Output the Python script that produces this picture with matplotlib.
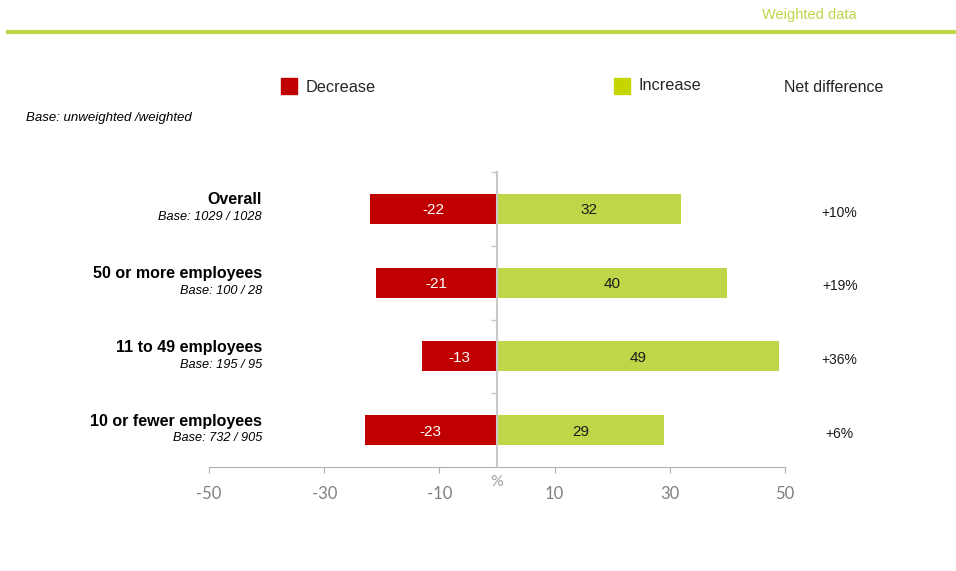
import matplotlib
matplotlib.use('Agg')
import matplotlib.pyplot as plt
from matplotlib.patches import Rectangle
from matplotlib.lines import Line2D

plt.rcParams['font.family'] = ['Liberation Sans', 'DejaVu Sans']

# data
categories = ['Overall', '50 or more employees', '11 to 49 employees', '10 or fewer employees']
bases = ['Base: 1029 / 1028', 'Base: 100 / 28', 'Base: 195 / 95', 'Base: 732 / 905']
decrease = [-22, -21, -13, -23]
increase = [32, 40, 49, 29]
xticks = [-50, -30, -10, 10, 30, 50]

red = '#C00000'
green = '#BDD748'
green_leg = '#C5D500'
grey = '#C8C8C8'
W, H = 956, 571

fig = plt.figure(figsize=(W / 100, H / 100), dpi=100)
ax = fig.add_axes([209 / W, 1 - 467 / H, 576 / W, 295 / H])

ypos = list(range(len(categories)))
ax.barh(ypos, decrease, height=0.41, color=red, zorder=2)
ax.barh(ypos, increase, height=0.41, color=green, zorder=2)
ax.set_xlim(-50, 50)
ax.set_ylim(len(categories) - 0.5, -0.5)

# value labels inside bars
for y, d, i in zip(ypos, decrease, increase):
    ax.text(d / 2, y, str(d), ha='center', va='center_baseline', color='white', fontsize=11)
    ax.text(i / 2, y, str(i), ha='center', va='center_baseline', color='#1a1a1a', fontsize=11)
    net = i + d
    ax.text(59.5, y + 0.03, '%+d%%' % net, ha='center', va='center_baseline', color='#1a1a1a',
            fontsize=10, clip_on=False)

# category labels on the left
for y, c, b in zip(ypos, categories, bases):
    ax.annotate(c, xy=(0.092, y), xycoords=ax.get_yaxis_transform(), xytext=(0, 6.5),
                textcoords='offset points', ha='right', va='center', fontsize=11.5,
                fontweight='bold', color='black', annotation_clip=False)
    ax.annotate(b, xy=(0.092, y), xycoords=ax.get_yaxis_transform(), xytext=(0, -6),
                textcoords='offset points', ha='right', va='center', fontsize=9.2,
                style='italic', color='black', annotation_clip=False)

# axes styling
for s in ['top', 'right']:
    ax.spines[s].set_visible(False)
ax.spines['left'].set_position(('data', 0))
ax.spines['left'].set_color(grey)
ax.spines['left'].set_linewidth(1.5)
ax.spines['left'].set_zorder(3)
ax.spines['bottom'].set_color('#B0B0B0')
ax.spines['bottom'].set_linewidth(0.8)
ax.set_yticks([y - 0.5 for y in ypos])
ax.set_yticklabels([])
ax.tick_params(axis='y', direction='out', length=4, color=grey, width=1)
ax.set_xticks(xticks)
ax.set_xticklabels([str(t) for t in xticks], fontfamily='Lato', fontsize=12, color='#808080')
ax.tick_params(axis='x', direction='out', length=4, color='#B0B0B0', width=0.8, pad=10)
ax.text(0, -0.05, '%', transform=ax.get_xaxis_transform(), ha='center', va='center',
        fontfamily='Lato', fontsize=11.5, color='#A0A0A0')

# header
fig.text(809 / W, 1 - 15 / H, 'Weighted data', ha='center', va='center', fontsize=10.5, color=green)
fig.add_artist(Line2D([8 / W, 1], [1 - 32 / H, 1 - 32 / H], transform=fig.transFigure,
                      color=green, linewidth=3))

# legend
fig.add_artist(Rectangle((281 / W, 1 - 94 / H), 16 / W, 16 / H, transform=fig.transFigure,
                         color=red))
fig.text(306 / W, 1 - 87 / H, 'Decrease', ha='left', va='center', fontsize=11.7, color='#262626')
fig.add_artist(Rectangle((614 / W, 1 - 94 / H), 16 / W, 16 / H, transform=fig.transFigure,
                         color=green_leg))
fig.text(639 / W, 1 - 86 / H, 'Increase', ha='left', va='center', fontsize=11.7, color='#262626')
fig.text(784 / W, 1 - 88 / H, 'Net difference', ha='left', va='center', fontsize=11.5, color='#262626')

fig.text(26 / W, 1 - 118 / H, 'Base: unweighted /weighted', ha='left', va='center',
         fontsize=9.5, style='italic', color='black')

fig.savefig('out.png', dpi=100)
